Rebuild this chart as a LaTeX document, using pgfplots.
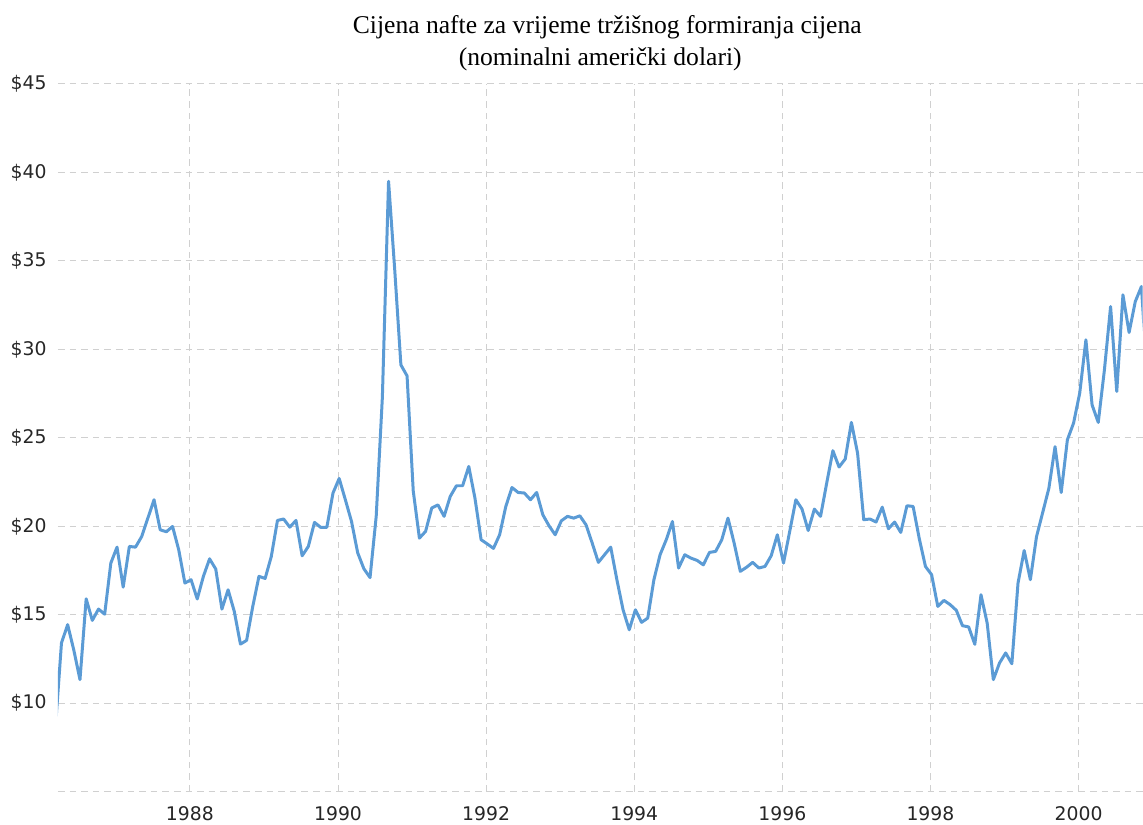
\documentclass[border=0pt]{standalone}
\usepackage{fontspec}
\setmainfont{DejaVu Sans}
\newfontfamily\titlefont{Liberation Serif}
\usepackage{pgfplots}
\pgfplotsset{compat=1.18}
\usepackage{pgfplotstable}
\definecolor{oilblue}{RGB}{91,155,213}
\definecolor{gridgray}{RGB}{208,208,208}

% k = month index (k=1 is April 1986), p = price in USD
\pgfplotstableread{
k p
0 8.5
1 13.4
2 14.44
3 13.0
4 11.33
5 15.9
6 14.68
7 15.32
8 15.03
9 17.92
10 18.82
11 16.56
12 18.86
13 18.82
14 19.42
15 20.46
16 21.5
17 19.8
18 19.69
19 19.99
20 18.67
21 16.79
22 16.98
23 15.89
24 17.17
25 18.16
26 17.58
27 15.32
28 16.41
29 15.19
30 13.34
31 13.55
32 15.47
33 17.17
34 17.05
35 18.29
36 20.33
37 20.41
38 19.95
39 20.33
40 18.33
41 18.86
42 20.22
43 19.94
44 19.94
45 21.88
46 22.7
47 21.5
48 20.27
49 18.5
50 17.6
51 17.1
52 20.56
53 27.3
54 39.5
55 34.5
56 29.12
57 28.5
58 22.0
59 19.33
60 19.71
61 21.03
62 21.21
63 20.56
64 21.69
65 22.29
66 22.29
67 23.38
68 21.59
69 19.24
70 19.0
71 18.75
72 19.52
73 21.12
74 22.19
75 21.91
76 21.88
77 21.5
78 21.91
79 20.65
80 20.03
81 19.52
82 20.31
83 20.56
84 20.46
85 20.59
86 20.08
87 19.05
88 17.96
89 18.39
90 18.82
91 16.98
92 15.28
93 14.15
94 15.28
95 14.57
96 14.81
97 16.98
98 18.39
99 19.24
100 20.27
101 17.64
102 18.39
103 18.2
104 18.07
105 17.82
106 18.52
107 18.58
108 19.24
109 20.46
110 19.05
111 17.45
112 17.68
113 17.96
114 17.64
115 17.73
116 18.33
117 19.52
118 17.92
119 19.7
120 21.5
121 20.97
122 19.76
123 20.97
124 20.56
125 22.44
126 24.27
127 23.35
128 23.8
129 25.87
130 24.14
131 20.37
132 20.41
133 20.24
134 21.08
135 19.86
136 20.24
137 19.65
138 21.16
139 21.12
140 19.3
141 17.73
142 17.26
143 15.47
144 15.81
145 15.57
146 15.25
147 14.38
148 14.31
149 13.33
150 16.13
151 14.53
152 11.33
153 12.27
154 12.84
155 12.23
156 16.79
157 18.63
158 16.98
159 19.42
160 20.78
161 22.15
162 24.5
163 21.91
164 24.89
165 25.83
166 27.53
167 30.54
168 26.86
169 25.87
170 28.84
171 32.42
172 27.62
173 33.08
174 30.95
175 32.7
176 33.55
177 28.0
}\oil

\begin{document}
\begin{tikzpicture}
\begin{axis}[
  scale only axis,
  width=542.5pt, height=354pt,
  xmin=0.433, xmax=176.17,
  ymin=5, ymax=45,
  axis line style={draw=none},
  major tick length=0pt,
  xtick={21.81,45.81,69.81,93.81,117.81,141.81,165.81},
  xticklabels={1988,1990,1992,1994,1996,1998,2000},
  ytick={5,10,15,20,25,30,35,40,45},
  yticklabels={{},\$10,\$15,\$20,\$25,\$30,\$35,\$40,\$45},
  grid=major,
  major grid style={gridgray, line width=0.5pt, dash pattern=on 3.3pt off 2.5pt},
  tick label style={font=\fontsize{9.4}{11}\selectfont, inner sep=0pt, text=black!85},
  xticklabel style={anchor=north, yshift=-7.5pt},
  yticklabel style={anchor=east, xshift=-5.5pt},
]
\addplot[oilblue, line width=1.5pt, line join=round, mark=none] table[x=k, y=p]{\oil};
\end{axis}
\node[font=\titlefont\fontsize{12.8}{16}\selectfont, anchor=base] at ([xshift=3.5pt, yshift=25pt]current axis.north) {Cijena nafte za vrijeme tržišnog formiranja cijena};
\node[font=\titlefont\fontsize{12.8}{16}\selectfont, anchor=base] at ([yshift=9pt]current axis.north) {(nominalni američki dolari)};
\path (current axis.south west) ++(-29pt,-16.5pt) coordinate (bbsw);
\path ([yshift=42pt]current axis.north east) coordinate (bbne);
\path (bbsw) rectangle (bbne);
\end{tikzpicture}
\end{document}
